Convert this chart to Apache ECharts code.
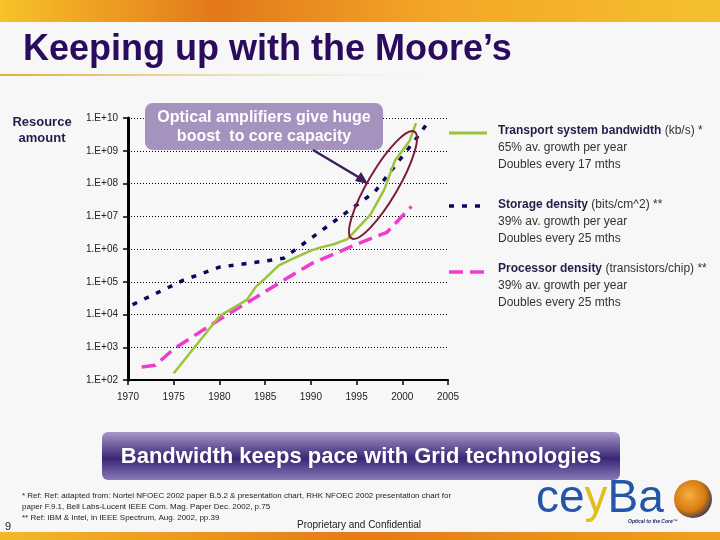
<!DOCTYPE html>
<html>
<head>
<meta charset="utf-8">
<script src="https://cdn.jsdelivr.net/npm/echarts@6/dist/echarts.min.js"></script>
<style>
  html, body { margin: 0; padding: 0; background: #f7f7f7; }
  #main { width: 720px; height: 540px; }
</style>
</head>
<body>
<div id="main"></div>
<script>
// data (year, value)
var bandwidthYears = [1975, 1980, 1983, 1984, 1985, 1986.5, 1988, 1990, 1991, 1992.5, 1994, 1995, 1996.5, 1998, 1999.2, 2000.8, 2001.5];
var bandwidthValues = [160, 8900, 28000, 71000, 126000, 316000, 500000, 890000, 1.1e6, 1.4e6, 2e6, 4e6, 1.1e7, 6.3e7, 5e8, 2e9, 7e9];

var storageYears = [1970.5, 1975, 1976, 1980, 1985, 1987, 1995, 1997, 2002, 2003];
var storageValues = [2e4, 8e4, 1.1e5, 2.8e5, 4.3e5, 5.2e5, 2.2e7, 5.6e7, 3.5e9, 9e9];

var processorYears = [1971.5, 1973, 1975, 1980, 1985, 1987, 1990, 1995, 1998.3, 2001];
var processorValues = [250, 280, 890, 7000, 5e4, 1.1e5, 3.5e5, 1.4e6, 3.2e6, 2e7];

var xTicks = { min: 1970, max: 2005, step: 5 };
var yTicks = { min: 1e2, max: 1e10 };

function pairs(xs, ys) {
    var out = [];
    for (var i = 0; i < xs.length; i++) {
        out.push([xs[i], ys[i]]);
    }
    return out;
}

var chart = echarts.init(document.getElementById("main"));
var font = "Liberation Sans";
var purple = "#2b0b5e";
var legendRich = {
    b: { font: "bold 12px " + font, fill: "#2a1a4a", lineHeight: 17 },
    n: { font: "12px " + font, fill: "#333", lineHeight: 17 }
};

var option = {
    backgroundColor: "#f7f7f7",
    animation: false,
    textStyle: { fontFamily: font },
    title: {
        text: "Keeping up with the Moore\u2019s",
        left: 18,
        top: 27,
        textStyle: { fontFamily: font, fontSize: 36, fontWeight: "bold", color: purple }
    },
    grid: { left: 128, right: 272, top: 118, bottom: 160 },
    xAxis: {
        type: "value",
        min: xTicks.min,
        max: xTicks.max,
        interval: xTicks.step,
        axisLine: { lineStyle: { color: "#000", width: 2 } },
        axisTick: { show: true, length: 5, lineStyle: { color: "#000", width: 1.5 } },
        axisLabel: { color: "#222", fontSize: 10, margin: 12, formatter: function (v) { return String(v); } },
        splitLine: { show: false }
    },
    yAxis: {
        type: "log",
        logBase: 10,
        min: yTicks.min,
        max: yTicks.max,
        axisLine: { show: true, lineStyle: { color: "#000", width: 3 } },
        axisTick: { show: true, length: 5, lineStyle: { color: "#000", width: 1.5 } },
        axisLabel: {
            color: "#222",
            fontSize: 10,
            margin: 10,
            formatter: function (v) {
                var e = Math.round(Math.log10(v));
                return "1.E+" + (e < 10 ? "0" + e : e);
            }
        },
        splitLine: { show: true, lineStyle: { color: "#000", width: 1, type: [1, 2] } }
    },
    series: [
        {
            name: "Processor density",
            type: "line",
            showSymbol: false,
            data: pairs(processorYears, processorValues),
            lineStyle: { color: "#f03bd0", width: 3.5, type: [14, 7] }
        },
        {
            name: "Storage density",
            type: "line",
            showSymbol: false,
            data: pairs(storageYears, storageValues),
            lineStyle: { color: "#0a0a5c", width: 3.5, type: [5, 8] }
        },
        {
            name: "Transport system bandwidth",
            type: "line",
            showSymbol: false,
            data: pairs(bandwidthYears, bandwidthValues),
            lineStyle: { color: "#9ac43a", width: 2.5 }
        }
    ],
    graphic: [
        // top banner
        {
            type: "rect", left: 0, top: 0, z: -1,
            shape: { width: 720, height: 22 },
            style: {
                fill: new echarts.graphic.LinearGradient(0, 0, 1, 0, [
                    { offset: 0, color: "#f7c22a" },
                    { offset: 0.3, color: "#e3781a" },
                    { offset: 0.6, color: "#f3a626" },
                    { offset: 1, color: "#f5c030" }
                ])
            }
        },
        // gold rule under title
        {
            type: "rect", left: 0, top: 74, z: -1,
            shape: { width: 420, height: 2 },
            style: {
                fill: new echarts.graphic.LinearGradient(0, 0, 1, 0, [
                    { offset: 0, color: "#d9b234" },
                    { offset: 1, color: "rgba(230,210,150,0)" }
                ])
            }
        },
        // y axis name
        {
            type: "text", x: 42, y: 114,
            style: { text: "Resource\namount", font: "bold 13px " + font, fill: "#2a1a4a", lineHeight: 16, align: "center" }
        },
        // callout
        {
            type: "rect", left: 145, top: 103, z: 100,
            shape: { width: 238, height: 47, r: 8 },
            style: { fill: "#a592bf" }
        },
        {
            type: "text", x: 264, y: 127, z: 101,
            style: {
                text: "Optical amplifiers give huge\nboost  to core capacity",
                font: "bold 16px " + font, fill: "#fff", align: "center", verticalAlign: "middle", lineHeight: 19
            }
        },
        // arrow
        {
            type: "line", z: 100,
            shape: { x1: 313, y1: 150, x2: 360, y2: 178 },
            style: { stroke: "#3c1d5a", lineWidth: 2.5 }
        },
        {
            type: "polygon", z: 100,
            shape: { points: [[368, 184], [355, 181], [361, 172]] },
            style: { fill: "#3c1d5a" }
        },
        // ellipse round the jump
        {
            type: "ellipse", x: 383, y: 185, rotation: 1.04, z: 100,
            shape: { cx: 0, cy: 0, rx: 62, ry: 15 },
            style: { fill: "none", stroke: "#7b1c3c", lineWidth: 2 }
        },
        // legend samples
        {
            type: "line",
            shape: { x1: 449, y1: 133, x2: 487, y2: 133 },
            style: { stroke: "#9ac43a", lineWidth: 3 }
        },
        {
            type: "line",
            shape: { x1: 449, y1: 206, x2: 486, y2: 206 },
            style: { stroke: "#0a0a5c", lineWidth: 3.5, lineDash: [5, 8] }
        },
        {
            type: "line",
            shape: { x1: 449, y1: 272, x2: 487, y2: 272 },
            style: { stroke: "#f03bd0", lineWidth: 3.5, lineDash: [14, 7] }
        },
        {
            type: "text", left: 498, top: 125,
            style: {
                text: "{b|Transport system bandwidth} {n|(kb/s) *}\n{n|65% av. growth per year}\n{n|Doubles every 17 mths}",
                rich: legendRich
            }
        },
        {
            type: "text", left: 498, top: 199,
            style: {
                text: "{b|Storage density} {n|(bits/cm^2) **}\n{n|39% av. growth per year}\n{n|Doubles every 25 mths}",
                rich: legendRich
            }
        },
        {
            type: "text", left: 498, top: 263,
            style: {
                text: "{b|Processor density} {n|(transistors/chip) **}\n{n|39% av. growth per year}\n{n|Doubles every 25 mths}",
                rich: legendRich
            }
        },
        // bottom banner
        {
            type: "rect", left: 102, top: 432,
            shape: { width: 518, height: 48, r: 6 },
            style: {
                fill: new echarts.graphic.LinearGradient(0, 0, 0, 1, [
                    { offset: 0, color: "#a898c8" },
                    { offset: 0.55, color: "#3a2674" },
                    { offset: 1, color: "#8a7ab8" }
                ])
            }
        },
        {
            type: "text", x: 361, y: 457,
            style: {
                text: "Bandwidth keeps pace with Grid technologies",
                font: "bold 22px " + font, fill: "#fff", align: "center", verticalAlign: "middle"
            }
        },
        // footnotes
        {
            type: "text", left: 22, top: 490,
            style: {
                text: "* Ref: Ref: adapted from: Nortel NFOEC 2002 paper B.5.2 & presentation chart, RHK NFOEC 2002 presentation chart for\npaper F.9.1, Bell Labs-Lucent IEEE Com. Mag. Paper Dec. 2002, p.75\n** Ref: IBM & Intel, in IEEE Spectrum, Aug. 2002, pp.39",
                font: "8px " + font, fill: "#222", lineHeight: 11
            }
        },
        {
            type: "text", left: 5, top: 521,
            style: { text: "9", font: "11px " + font, fill: "#222" }
        },
        {
            type: "text", left: 297, top: 520,
            style: { text: "Proprietary and Confidential", font: "10px " + font, fill: "#222" }
        },
        // logo
        {
            type: "text", left: 536, top: 476,
            style: {
                text: "{c|ce}{y|y}{c|Ba}",
                rich: {
                    c: { font: "46px 'Liberation Sans Narrow', 'Liberation Sans'", fill: "#2356a8" },
                    y: { font: "46px 'Liberation Sans Narrow', 'Liberation Sans'", fill: "#e0c020" }
                }
            }
        },
        {
            type: "circle", shape: { cx: 693, cy: 499, r: 19 },
            style: {
                fill: new echarts.graphic.RadialGradient(0.4, 0.4, 0.7, [
                    { offset: 0, color: "#f5b040" },
                    { offset: 0.6, color: "#d87a10" },
                    { offset: 1, color: "#1a2a60" }
                ])
            }
        },
        {
            type: "text", left: 628, top: 519,
            style: { text: "Optical to the Core\u2122", font: "italic bold 5px " + font, fill: "#1a2a60" }
        },
        // bottom bar
        {
            type: "rect", left: 0, top: 532, z: -1,
            shape: { width: 720, height: 8 },
            style: {
                fill: new echarts.graphic.LinearGradient(0, 0, 1, 0, [
                    { offset: 0, color: "#f3b82a" },
                    { offset: 0.5, color: "#e57a18" },
                    { offset: 1, color: "#f0a020" }
                ])
            }
        }
    ]
};
chart.setOption(option);
</script>
</body>
</html>
